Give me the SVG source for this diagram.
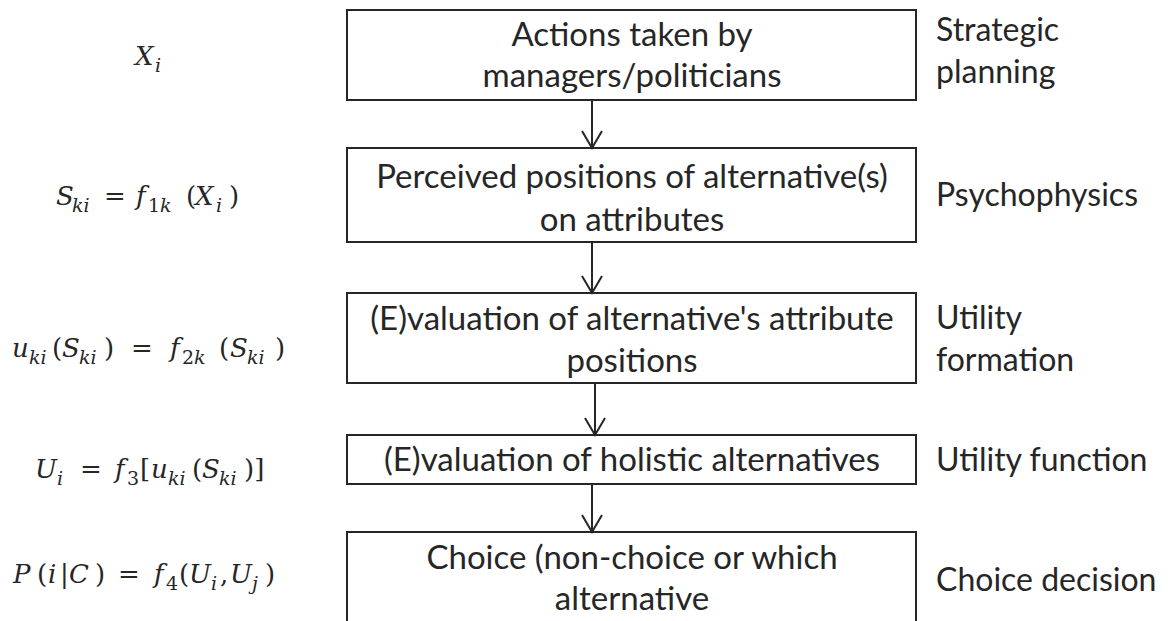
<svg xmlns="http://www.w3.org/2000/svg" width="1172" height="621" viewBox="0 0 1172 621">
  <style>
    .box { fill: #ffffff; stroke: #262626; stroke-width: 2; }
    .lbl { font-family: Lato, "Liberation Sans", sans-serif; font-size: 33px; fill: #262626; text-anchor: middle; }
    .side { font-family: Lato, "Liberation Sans", sans-serif; font-size: 32px; fill: #262626; }
    .eq { font-family: "DejaVu Serif", "Liberation Serif", serif; font-size: 26px; fill: #262626; }
    .it { font-style: italic; }
    .sub { font-size: 19px; }
    .link { stroke: #262626; stroke-width: 2; fill: none; marker-end: url(#vhead); }
  </style>
  <defs>
    <marker id="vhead" viewBox="0 0 20 22" refX="18" refY="11" markerWidth="20" markerHeight="22" markerUnits="userSpaceOnUse" orient="auto">
      <path d="M1,1 L18,11 L1,21" fill="none" stroke="#262626" stroke-width="2"/>
    </marker>
  </defs>
  <rect width="1172" height="621" fill="#ffffff"/>

  <!-- process steps -->
  <g id="step-actions">
    <rect class="box" x="347" y="10" width="569" height="90"/>
    <text class="lbl" x="632" y="46">Actions taken by</text>
    <text class="lbl" x="632" y="87">managers/politicians</text>
  </g>
  <g id="step-perception">
    <rect class="box" x="347" y="148" width="569" height="94"/>
    <text class="lbl" x="632" y="188">Perceived positions of alternative(s)</text>
    <text class="lbl" x="632" y="231">on attributes</text>
  </g>
  <g id="step-attribute-valuation">
    <rect class="box" x="347" y="293" width="569" height="90"/>
    <text class="lbl" x="632" y="330">(E)valuation of alternative's attribute</text>
    <text class="lbl" x="632" y="372">positions</text>
  </g>
  <g id="step-holistic-valuation">
    <rect class="box" x="347" y="435" width="569" height="49"/>
    <text class="lbl" x="632" y="471">(E)valuation of holistic alternatives</text>
  </g>
  <g id="step-choice">
    <rect class="box" x="347" y="532" width="569" height="110"/>
    <text class="lbl" x="632" y="569">Choice (non-choice or which</text>
    <text class="lbl" x="632" y="610">alternative</text>
  </g>

  <!-- flow between steps -->
  <g id="connectors">
    <line class="link" x1="592" y1="100" x2="592" y2="148"/>
    <line class="link" x1="592" y1="242" x2="592" y2="293"/>
    <line class="link" x1="595" y1="383" x2="595" y2="435"/>
    <line class="link" x1="592" y1="484" x2="592" y2="532"/>
  </g>

  <!-- stage names -->
  <g id="stage-labels">
    <text class="side" x="936" y="41">Strategic</text>
    <text class="side" x="936" y="83">planning</text>
    <text class="side" x="936" y="206">Psychophysics</text>
    <text class="side" x="936" y="329">Utility</text>
    <text class="side" x="936" y="371">formation</text>
    <text class="side" x="936" y="471">Utility function</text>
    <text class="side" x="936" y="591">Choice decision</text>
  </g>

  <!-- model equations -->
  <g id="equations">
    <text class="eq"><tspan class="it" x="135" y="65">X</tspan><tspan class="it sub" x="155" y="72">i</tspan></text>

    <text class="eq"><tspan class="it" x="56" y="205">S</tspan><tspan class="it sub" x="72" y="212">ki</tspan><tspan x="104" y="205">=</tspan><tspan class="it" x="136" y="205">f</tspan><tspan class="sub" x="148" y="212">1</tspan><tspan class="it sub" x="160" y="212">k</tspan><tspan x="186" y="205">(</tspan><tspan class="it" x="195" y="205">X</tspan><tspan class="it sub" x="216" y="212">i</tspan><tspan x="229" y="205">)</tspan></text>

    <text class="eq"><tspan class="it" x="12" y="357">u</tspan><tspan class="it sub" x="29" y="364">ki</tspan><tspan x="52" y="357">(</tspan><tspan class="it" x="62" y="357">S</tspan><tspan class="it sub" x="79" y="364">ki</tspan><tspan x="104" y="357">)</tspan><tspan x="131" y="357">=</tspan><tspan class="it" x="170" y="357">f</tspan><tspan class="sub" x="182" y="364">2</tspan><tspan class="it sub" x="194" y="364">k</tspan><tspan x="219" y="357">(</tspan><tspan class="it" x="230" y="357">S</tspan><tspan class="it sub" x="247" y="364">ki</tspan><tspan x="275" y="357">)</tspan></text>

    <text class="eq"><tspan class="it" x="35" y="478">U</tspan><tspan class="it sub" x="57" y="485">i</tspan><tspan x="80" y="478">=</tspan><tspan class="it" x="115" y="478">f</tspan><tspan class="sub" x="127" y="485">3</tspan><tspan x="140" y="478">[</tspan><tspan class="it" x="151" y="478">u</tspan><tspan class="it sub" x="168" y="485">ki</tspan><tspan x="192" y="478">(</tspan><tspan class="it" x="202" y="478">S</tspan><tspan class="it sub" x="219" y="485">ki</tspan><tspan x="244" y="478">)]</tspan></text>

    <text class="eq"><tspan class="it" x="13" y="583">P</tspan><tspan x="37" y="583">(</tspan><tspan class="it" x="48" y="583">i</tspan><tspan x="60" y="583">|</tspan><tspan class="it" x="69" y="583">C</tspan><tspan x="95" y="583">)</tspan><tspan x="118" y="583">=</tspan><tspan class="it" x="154" y="583">f</tspan><tspan class="sub" x="166" y="590">4</tspan><tspan x="179" y="583">(</tspan><tspan class="it" x="189" y="583">U</tspan><tspan class="it sub" x="211" y="590">i</tspan><tspan x="220" y="583">,</tspan><tspan class="it" x="230" y="583">U</tspan><tspan class="it sub" x="252" y="590">j</tspan><tspan x="265" y="583">)</tspan></text>
  </g>
</svg>
